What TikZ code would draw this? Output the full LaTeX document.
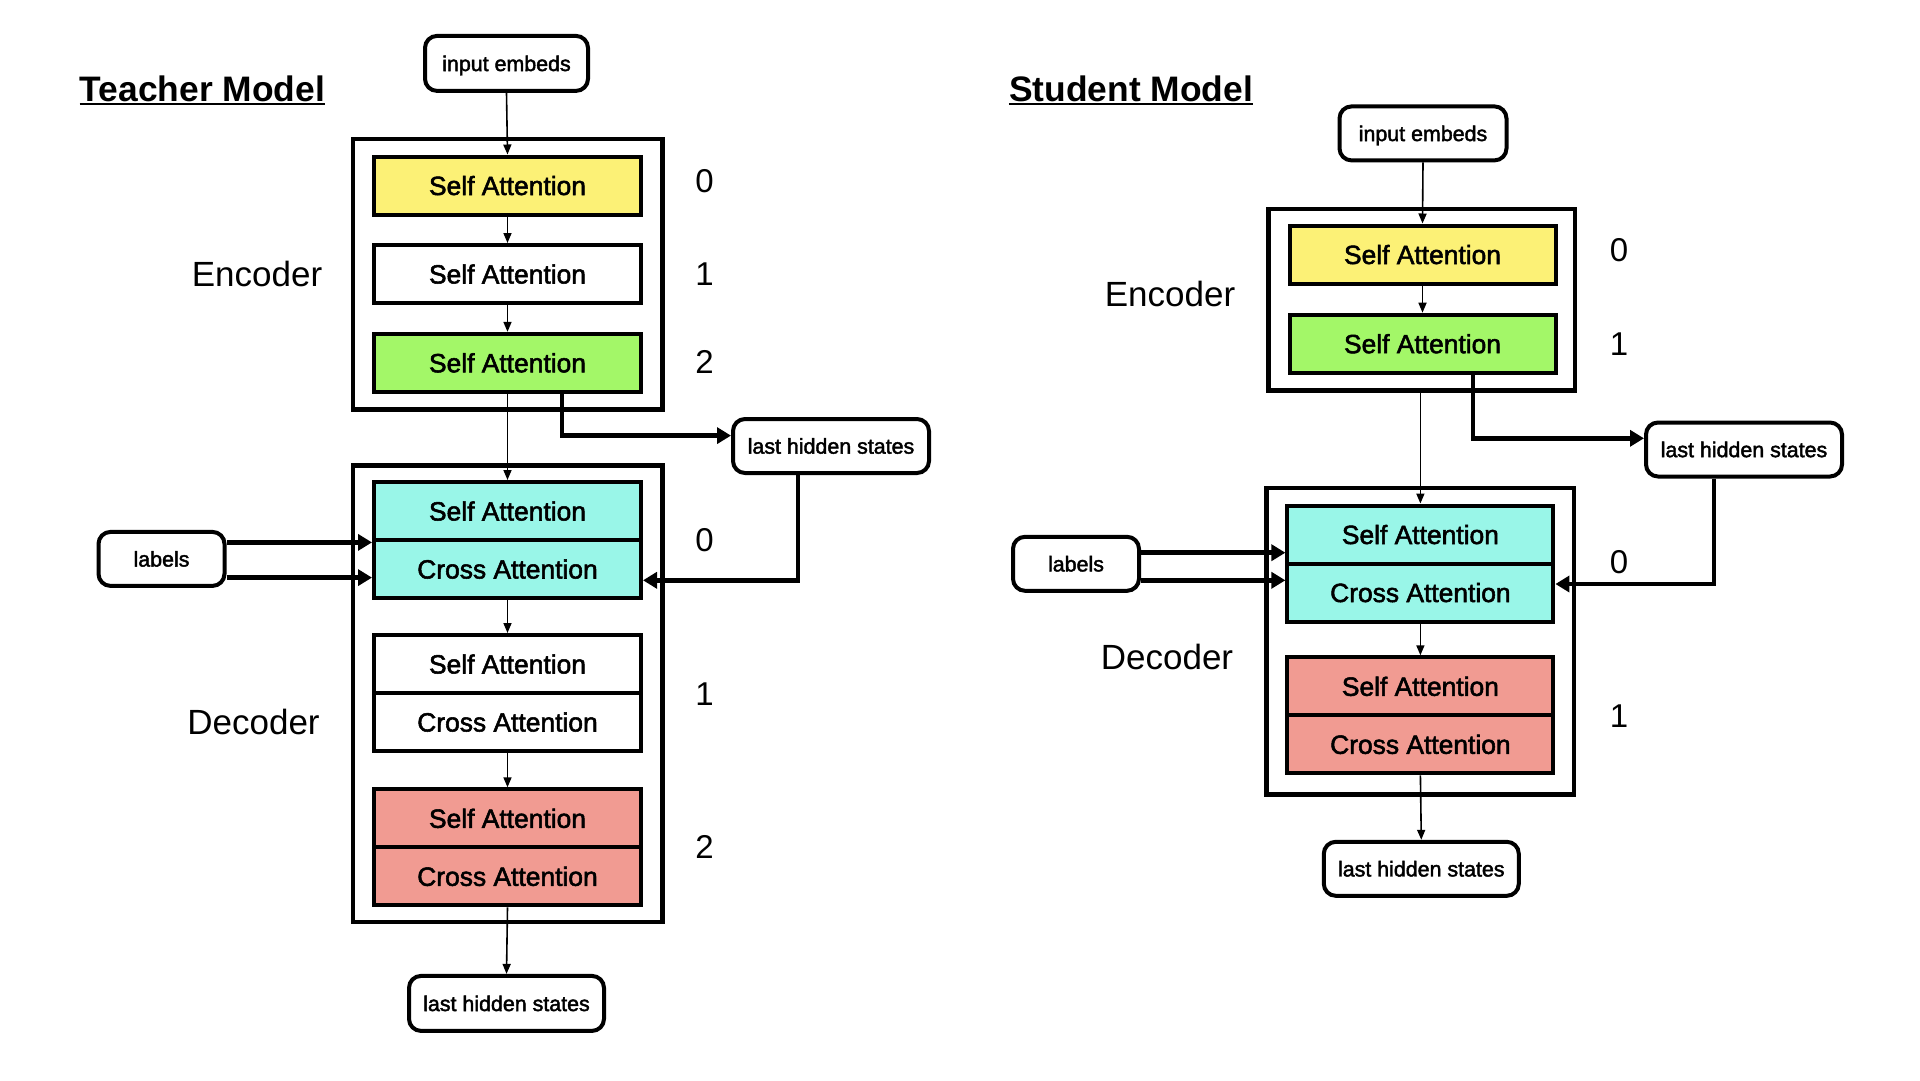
\documentclass[tikz,border=0pt]{standalone}
\usepackage{fontspec}
\setmainfont{Liberation Sans}
\newfontfamily\medfont{Liberation Sans}[FakeBold=2]
\usetikzlibrary{arrows.meta}
\definecolor{cyel}{HTML}{FCF176}
\definecolor{cgrn}{HTML}{A3F768}
\definecolor{ccyn}{HTML}{99F6E8}
\definecolor{cred}{HTML}{F19B92}
\begin{document}
\begin{tikzpicture}[x=1pt,y=-1pt,
 blk/.style={draw=black, line width=4pt, minimum width=267pt, minimum height=58pt, inner sep=0pt, font=\medfont\fontsize{26.4pt}{30pt}\selectfont, text height=19pt, text depth=0pt},
 rbox/.style={draw=black, line width=4pt, rounded corners=12pt, inner sep=0pt, fill=white, font=\medfont\fontsize{21.4pt}{24pt}\selectfont, text height=15.3pt, text depth=0pt},
 outer/.style={draw=black, line width=4.5pt, inner sep=0pt},
 thinarrow/.style={-{Triangle[length=10pt,width=8pt]}, line width=1.6pt},
 thickarrow/.style={-{Triangle[length=14pt,width=16pt]}, line width=4.5pt},
 num/.style={font=\fontsize{33pt}{37pt}\selectfont, inner sep=0pt, text height=23.6pt, text depth=0pt},
 part/.style={font=\fontsize{35pt}{40pt}\selectfont, inner sep=0pt, text height=25pt, text depth=0pt},
 ttl/.style={font=\bfseries\fontsize{35.4pt}{40pt}\selectfont, inner sep=0pt, text height=25.3pt, text depth=0pt},
]
\useasboundingbox (0,0) rectangle (1920,1080);
\fill[white] (0,0) rectangle (1920,1080);

% ================= Teacher =================
\node[ttl] (tttl) at (202.5,88.8) {Teacher Model};
\draw[line width=2.6pt] ([yshift=-2.6pt]tttl.base west) -- ([yshift=-2.6pt]tttl.base east);

\node[outer, minimum width=309.7pt, minimum height=270.3pt] (tenc) at (507.7,274.1) {};
\node[outer, minimum width=309.7pt, minimum height=456.5pt] (tdec) at (507.7,693.5) {};

\node[rbox, minimum width=163pt, minimum height=55pt] (tin) at (506.5,63.4) {input embeds};

\node[blk, fill=cyel] (tsa0) at (507.5,185.5) {Self Attention};
\node[blk, fill=white] (tsa1) at (507.5,274) {Self Attention};
\node[blk, fill=cgrn] (tsa2) at (507.5,362.8) {Self Attention};

\node[blk, fill=ccyn] (tdsa0) at (507.5,511) {Self Attention};
\node[blk, fill=ccyn] (tdca0) at (507.5,569) {Cross Attention};
\node[blk, fill=white] (tdsa1) at (507.5,664) {Self Attention};
\node[blk, fill=white] (tdca1) at (507.5,722) {Cross Attention};
\node[blk, fill=cred] (tdsa2) at (507.5,818.3) {Self Attention};
\node[blk, fill=cred] (tdca2) at (507.5,876.3) {Cross Attention};

\node[rbox, minimum width=196pt, minimum height=54pt] (tlhs) at (831,446) {last hidden states};
\node[rbox, minimum width=195pt, minimum height=55pt] (tout) at (506.5,1003.4) {last hidden states};
\node[rbox, minimum width=126pt, minimum height=54pt] (tlab) at (161.5,558.9) {labels};

\node[part] (tenct) at (257,273.8) {Encoder};
\node[part] (tdect) at (253.5,721.9) {Decoder};

\node[num] (tn0) at (704.5,180.3) {0};
\node[num] (tn1) at (704.5,273.8) {1};
\node[num] (tn2) at (704.5,362) {2};
\node[num] (tn3) at (704.5,540) {0};
\node[num] (tn4) at (704.5,694) {1};
\node[num] (tn5) at (704.5,847) {2};

\draw[thinarrow] (tin.south) -- (tsa0.north);
\draw[thinarrow] (tsa0.south) -- (tsa1.north);
\draw[thinarrow] (tsa1.south) -- (tsa2.north);
\draw[thinarrow] (tsa2.south) -- (tdsa0.north);
\draw[thinarrow] (tdca0.south) -- (tdsa1.north);
\draw[thinarrow] (tdca1.south) -- (tdsa2.north);
\draw[thinarrow] (tdca2.south) -- (tout.north);

\coordinate (tbr) at ([xshift=54.5pt]tsa2.south);
\draw[thickarrow] (tbr) |- ([yshift=10.4pt]tlhs.west);
\draw[thickarrow] ([xshift=-33pt]tlhs.south) |- ([yshift=-11.3pt]tdca0.east);
\coordinate (tl1) at ([yshift=16.5pt]tlab.east);
\coordinate (tl2) at ([yshift=-18.7pt]tlab.east);
\draw[thickarrow] (tl1) -- (tl1 -| tdsa0.west);
\draw[thickarrow] (tl2) -- (tl2 -| tdca0.west);

% ================= Student =================
\node[ttl] (sttl) at (1131,88.8) {Student Model};
\draw[line width=2.6pt] ([yshift=-2.6pt]sttl.base west) -- ([yshift=-2.6pt]sttl.base east);

\node[outer, minimum width=306.5pt, minimum height=181.5pt] (senc) at (1421.5,299.7) {};
\node[outer, minimum width=307.5pt, minimum height=306.7pt] (sdec) at (1420,641.3) {};

\node[rbox, minimum width=167pt, minimum height=54pt] (sin) at (1423,133.4) {input embeds};

\node[blk, fill=cyel, minimum width=266pt] (ssa0) at (1422.5,254.5) {Self Attention};
\node[blk, fill=cgrn, minimum width=266pt] (ssa1) at (1422.5,343.7) {Self Attention};

\node[blk, fill=ccyn, minimum width=266pt] (sdsa0) at (1420.4,534.5) {Self Attention};
\node[blk, fill=ccyn, minimum width=266pt] (sdca0) at (1420.4,592.5) {Cross Attention};
\node[blk, fill=cred, minimum width=266pt] (sdsa1) at (1420.4,686.3) {Self Attention};
\node[blk, fill=cred, minimum width=266pt] (sdca1) at (1420.4,744.3) {Cross Attention};

\node[rbox, minimum width=196pt, minimum height=54pt] (slhs) at (1744,449.5) {last hidden states};
\node[rbox, minimum width=195pt, minimum height=54pt] (sout) at (1421.3,868.8) {last hidden states};
\node[rbox, minimum width=126pt, minimum height=54pt] (slab) at (1076,563.8) {labels};

\node[part] (senct) at (1170,294) {Encoder};
\node[part] (sdect) at (1167,656.8) {Decoder};

\node[num] (sn0) at (1619,250) {0};
\node[num] (sn1) at (1619,343.3) {1};
\node[num] (sn2) at (1619,562) {0};
\node[num] (sn3) at (1619,715.4) {1};

\draw[thinarrow] (sin.south) -- (ssa0.north);
\draw[thinarrow] (ssa0.south) -- (ssa1.north);
\draw[thinarrow] (senc.south -| sdsa0.north) -- (sdsa0.north);
\draw[thinarrow] (sdca0.south) -- (sdsa1.north);
\draw[thinarrow] (sdca1.south) -- (sout.north);

\coordinate (sbr) at ([xshift=50.5pt]ssa1.south);
\draw[thickarrow] (sbr) |- ([yshift=11.2pt]slhs.west);
\draw[thickarrow] ([xshift=-30pt]slhs.south) |- ([yshift=8.5pt]sdca0.east);
\coordinate (sl1) at ([yshift=11.1pt]slab.east);
\coordinate (sl2) at ([yshift=-16.5pt]slab.east);
\draw[thickarrow] (sl1) -- (sl1 -| sdsa0.west);
\draw[thickarrow] (sl2) -- (sl2 -| sdca0.west);
\end{tikzpicture}
\end{document}
